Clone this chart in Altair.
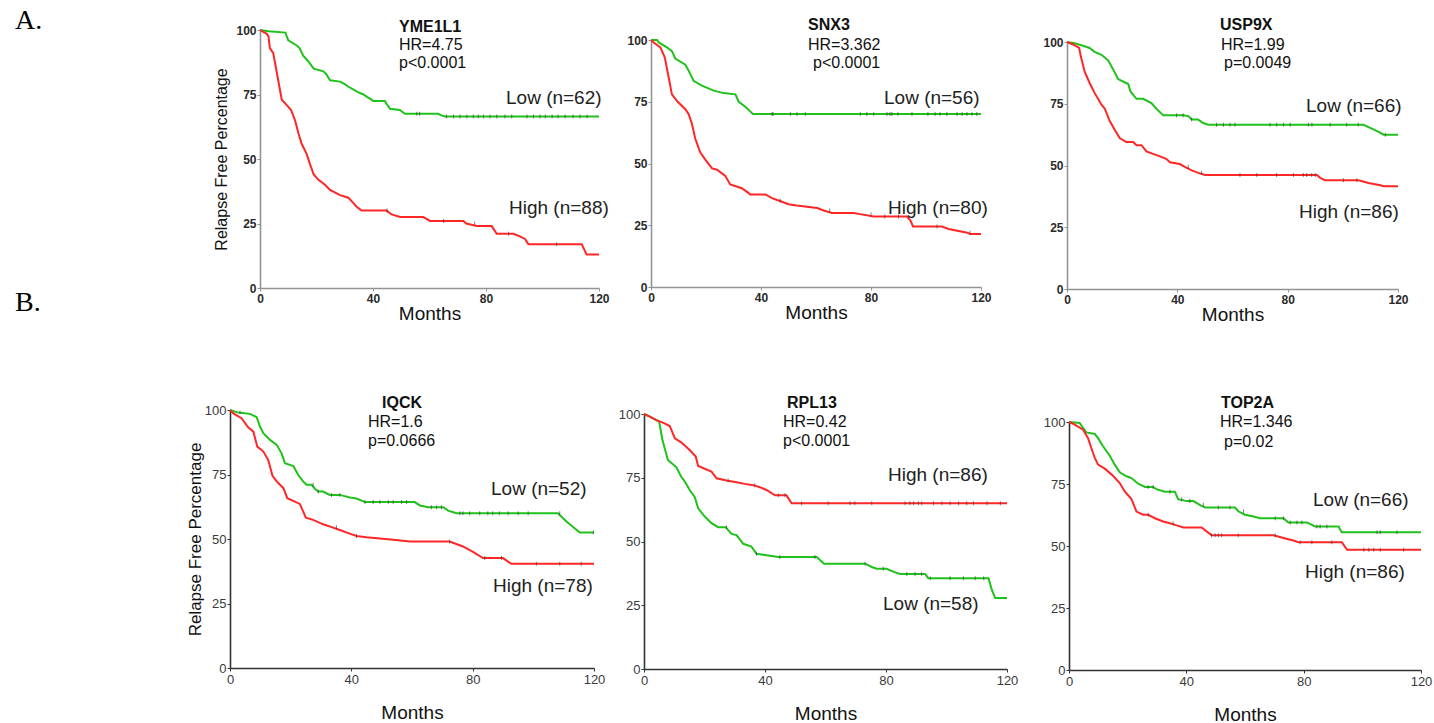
import altair as alt
import pandas as pd

# ---------------------------------------------------------------
# Kaplan-Meier curves: (months, relapse-free percentage) vertices
# ---------------------------------------------------------------
yme1l1_low = [(0, 100), (3, 99.5), (9, 99), (10, 96), (13, 94), (14, 93), (15.3, 90), (17, 88), (19, 85),
              (22.4, 84), (23.4, 83), (24.8, 80.5), (28.3, 80), (30, 79), (31.3, 78), (33, 77), (34.5, 76),
              (36.6, 75), (38, 74), (39.5, 73), (40, 72.5), (44.2, 72.5), (45, 71), (46, 69.5), (49.5, 69),
              (50.7, 68), (51.3, 67.5), (63, 67.5), (64, 67), (65.5, 66.5), (120, 66.5)]
yme1l1_high = [(0, 100), (2.4, 98.5), (3, 97.5), (3.5, 93), (4.7, 91), (7.7, 73), (9.4, 71), (11, 69),
               (12.4, 65), (13.6, 60), (14.7, 56), (16.5, 52), (17.7, 48), (19, 44), (20.6, 42), (23, 40),
               (24.8, 38), (28.3, 36), (31.3, 35), (33, 33), (34.2, 31.5), (36, 30), (44.8, 30), (46.6, 28.5),
               (49.6, 27.5), (57.8, 27.5), (60.2, 26), (72, 26), (73, 25), (76.7, 24), (82, 24), (83.8, 21),
               (89.7, 21), (92, 20), (93.8, 19), (95, 17), (113.9, 17), (115.6, 13), (120, 13)]
snx3_low = [(0, 100), (2.2, 100), (2.8, 99), (5.8, 97), (7.6, 95.5), (8.8, 92.5), (12.5, 90), (13.7, 87.5),
            (15.5, 83.5), (18.5, 81.5), (22.8, 79.5), (26.4, 78.5), (30.7, 78), (31.9, 75), (34.3, 73),
            (37.1, 70), (120, 70)]
snx3_high = [(0, 100), (1, 99), (3.4, 97), (5, 93), (6.4, 85), (7.6, 78), (9.7, 75), (12.5, 72), (13.7, 70),
             (14.9, 66), (16.1, 60), (17.9, 54.5), (19.8, 51.5), (22.2, 48), (24, 47.5), (25.8, 46), (27, 45),
             (28.8, 41.5), (33, 40), (34.9, 38.5), (36.1, 37.5), (41.6, 37.5), (44, 36), (46.4, 35), (50, 33.5),
             (53, 33), (56.7, 32.5), (60.4, 32), (62.8, 31), (65.8, 30), (73.7, 30), (76, 29.5), (81, 28.5),
             (93, 28.5), (94.3, 27), (95.3, 24.5), (105.8, 24.5), (108.2, 23.5), (115, 22), (116.1, 21.5),
             (120, 21.5)]
usp9x_low = [(0, 100), (2.8, 99.5), (5.2, 98.7), (8.2, 97.6), (10, 96), (12.5, 94.8), (14.9, 92.6), (16.7, 89),
             (18.5, 85), (20.9, 83.7), (22.2, 83), (23, 80), (25.2, 77), (27.6, 77), (30.6, 75.3), (32.4, 73),
             (34.9, 70.3), (42.1, 70.3), (44, 70), (45.2, 68.6), (47.5, 68.6), (49.4, 67.2), (51.2, 66.5),
             (107.5, 66.5), (109.9, 65.2), (113, 63.6), (114.8, 62.5), (120, 62.5)]
usp9x_high = [(0, 100), (2.2, 99), (4.4, 97.6), (5, 94.2), (6.4, 88), (8.2, 83.4), (10, 79.4), (12.5, 74.6),
              (13.7, 73), (15.5, 68), (17.3, 64.5), (19.1, 61.1), (21.5, 59.5), (24, 59.5), (25.2, 58.2),
              (27, 58.2), (28.8, 55.7), (31.2, 54.7), (33.7, 53.7), (36.1, 52.6), (37.3, 51.3), (40.9, 50.6),
              (42.7, 49.4), (45.2, 48), (47.6, 47), (50, 46.2), (90.6, 46.2), (91.8, 45), (93.6, 44),
              (105.7, 44), (109.3, 42.9), (113.6, 42), (114.8, 41.6), (120, 41.6)]
iqck_low = [(0, 100), (2.7, 99), (6.6, 98.5), (8.8, 97.2), (9.9, 93.5), (11, 91), (13.2, 88.4), (15.4, 86.5),
            (17, 83.2), (18.1, 79.4), (20.9, 78.3), (22.5, 74.8), (24.1, 72.3), (25.2, 71), (26.9, 71),
            (28, 69.5), (29.1, 68.4), (30.7, 68.4), (32.9, 67.1), (36.2, 67.1), (39.5, 66.1), (41.7, 65.7),
            (44.5, 64.3), (60.9, 64.3), (62.6, 63), (65.3, 62.3), (70.3, 62.3), (71.9, 61), (74.7, 60),
            (108.1, 60), (110.9, 56.8), (113.6, 54.2), (115.3, 52.5), (120, 52.5)]
iqck_high = [(0, 100), (1.1, 98.7), (3.8, 96.8), (6, 93.3), (7.7, 91.6), (9, 85.8), (11, 83.9), (12.6, 80.6),
             (14, 74.5), (15.4, 72.3), (17.6, 69.7), (18.9, 65.8), (21.4, 64.5), (23, 63.6), (23.9, 61.3),
             (25, 58.3), (27.4, 57.4), (30.7, 55.7), (33.5, 54.6), (36.2, 53.5), (39, 52.3), (41.7, 51.2),
             (45, 50.7), (49.4, 50.2), (53.8, 49.7), (59.3, 49), (72.4, 49), (76.8, 47.1), (80.1, 45),
             (83.4, 42.6), (90, 42.6), (92.7, 40.4), (120, 40.4)]
rpl13_low = [(0, 100), (1.9, 99), (3.5, 98), (5, 97), (6.1, 89.8), (7.9, 82), (10.7, 79.1), (12.4, 75.2),
             (13.5, 73.5), (15.1, 70.2), (16.8, 67.4), (17.9, 63), (20.1, 59.8), (22.3, 57.2), (24.5, 55.6),
             (27, 55.6), (28.9, 53), (30.6, 52.5), (32.8, 49.1), (35.5, 48), (37.2, 45.2), (39.4, 44.8),
             (41.6, 44.4), (44.4, 43.9), (57.1, 43.9), (59.5, 41.3), (73.1, 41.3), (75.3, 40), (76.9, 39.3),
             (80.2, 39.3), (83, 37.9), (84.7, 37.3), (92.9, 37.3), (94, 35.6), (113.9, 35.6), (115, 31),
             (116.1, 27.8), (120, 27.8)]
rpl13_high = [(0, 100), (1.9, 99), (4.1, 97.6), (6.8, 96.3), (8.5, 95.3), (10.2, 90.5), (12.4, 88.8),
              (15.1, 85.9), (17.1, 83.3), (17.9, 79.6), (22.3, 77.4), (24, 74.8), (27.3, 73.9), (30.6, 73.2),
              (33.3, 72.6), (36.1, 72.1), (38.3, 71.3), (40.5, 70.2), (43.3, 68.1), (47.1, 68.1), (48.8, 65),
              (120, 65)]
top2a_low = [(0, 100), (3.6, 99.6), (5.9, 95.8), (8.8, 95.2), (9.9, 93.5), (11.6, 90.2), (13.9, 86.4),
             (15.6, 82.8), (17.3, 79.7), (19.6, 78.1), (21.3, 77.4), (23.6, 75.1), (25.9, 73.8), (28.7, 73.8),
             (29.8, 72.9), (32.7, 71.9), (36.1, 71.9), (37.2, 68.9), (40.1, 68.1), (42.4, 68.1), (44.6, 66.6),
             (46.4, 65.5), (56.6, 65.5), (57.7, 64), (60, 62.6), (62.9, 61.9), (65.1, 61.2), (73.1, 61.2),
             (74.8, 59.5), (81.1, 59.5), (83.9, 57.9), (91.9, 57.9), (93, 55.5), (120, 55.5)]
top2a_high = [(0, 100), (1.4, 99.3), (4.8, 96.9), (6.5, 93.5), (7.6, 89.5), (8.8, 85.5), (9.9, 82.8),
              (12.2, 81.2), (15, 78.3), (17.3, 75.4), (19, 72), (21.3, 68.9), (23, 63.9), (25.3, 62.6),
              (27, 62.6), (29.3, 61.2), (32.1, 59.9), (34.4, 59.2), (36.7, 58.3), (39, 57.5), (45.2, 57.5),
              (46.9, 55.9), (48.6, 54.3), (69.7, 54.3), (73.1, 53.2), (76.5, 52.2), (78.2, 51.5), (93, 51.5),
              (94.8, 48.5), (120, 48.5)]

# Censoring times (months)
yme1l1_low_cens = [55.5, 56.5, 66, 68.5, 70.8, 73.2, 75.5, 77.3, 79.1, 81.4, 83.8, 86.7, 89.1, 94.5,
                   96.8, 99.1, 101, 103.4, 105.5, 108, 110.8, 113.3, 115.8]
yme1l1_high_cens = [45, 65, 76, 88, 105]
snx3_low_cens = [44, 44.4, 50.7, 53.1, 56.1, 76.1, 78.5, 81, 85.8, 86.9, 87.6, 89.8, 94.9, 100.7, 103.3,
                 105.1, 107.6, 111.3, 113.1, 114.9, 116.7, 118.5]
snx3_high_cens = [47, 65, 80, 85, 90, 104, 116]
usp9x_low_cens = [39.7, 42.1, 45.2, 54.2, 56.7, 59.1, 60.9, 73.6, 76, 78.5, 80.9, 87.5, 88.8, 95.4, 101.4,
                  105.6, 115.4]
usp9x_high_cens = [44, 48.8, 62.7, 68.8, 76, 82.1, 85.7, 86.9, 88.7, 90, 100.2, 105.1]
iqck_low_cens = [3.3, 27.4, 29.1, 33.5, 36.2, 44.5, 47.2, 49.4, 52.2, 53.8, 56.6, 58.2, 66.4, 68.1, 69.7,
                 75.8, 76.8, 79, 82.3, 85, 86.6, 88.8, 91.7, 95, 98.3, 108.7, 119.8]
iqck_high_cens = [35.1, 41.7, 72.4, 84, 89.5, 101, 108.7, 115.8]
rpl13_low_cens = [27.3, 37.2, 44.9, 56.5, 73.1, 79.1, 86.9, 89.6, 91.8, 94.6, 101.2, 105.6, 109.5, 112.3]
rpl13_high_cens = [27.8, 36.6, 44.4, 46.6, 52.1, 60.9, 68.1, 69.7, 75.3, 86.3, 87.9, 89.1, 90.7, 91.8, 95.7,
                   98.5, 101.2, 104, 106.7, 108.9, 113.4, 117.8]
top2a_low_cens = [27, 28.7, 34.4, 38.4, 41.2, 45.8, 50.9, 54.9, 59.5, 70.3, 73.1, 75.4, 77.7, 79.4, 84.5,
                  85.6, 87.9, 105, 106.1, 111.8]
top2a_high_cens = [27, 35.5, 48.6, 49.8, 50.9, 52, 57.7, 70.3, 78.8, 82.8, 89.6, 100.5, 102.2, 103.9, 106.1,
                   114.1]

genes = ["YME1L1", "SNX3", "USP9X", "IQCK", "RPL13", "TOP2A"]
hr_text = ["HR=4.75", "HR=3.362", "HR=1.99", "HR=1.6", "HR=0.42", "HR=1.346"]
p_text = ["p<0.0001", "p<0.0001", "p=0.0049", "p=0.0666", "p<0.0001", "p=0.02"]
low_n = [62, 56, 66, 52, 58, 66]
high_n = [88, 80, 86, 78, 86, 86]
x_ticks = [0, 40, 80, 120]
y_ticks = [0, 25, 50, 75, 100]
section_labels = ["A.", "B."]

low_curves = [yme1l1_low, snx3_low, usp9x_low, iqck_low, rpl13_low, top2a_low]
high_curves = [yme1l1_high, snx3_high, usp9x_high, iqck_high, rpl13_high, top2a_high]
low_cens = [yme1l1_low_cens, snx3_low_cens, usp9x_low_cens, iqck_low_cens, rpl13_low_cens, top2a_low_cens]
high_cens = [yme1l1_high_cens, snx3_high_cens, usp9x_high_cens, iqck_high_cens, rpl13_high_cens,
             top2a_high_cens]

# ---------------------------------------------------------------
# Page geometry and styling
# ---------------------------------------------------------------
W, H = 1434, 723
SANS = "Liberation Sans"
SERIF = "Liberation Serif"
GREEN = "#1fc21a"
RED = "#ff2626"

# plot boxes: (left, right, top, bottom) in pixels
BOX = [(260, 599, 30, 288), (651, 981, 40, 287), (1067, 1398, 42, 289),
       (230, 594, 410, 668), (644, 1007, 414, 669), (1069, 1421, 422, 670)]
# gene / HR / p text anchors (left x, middle y)
GENE_XY = [(399, 27), (808, 25), (1220, 25), (382, 403), (787, 403), (1221, 403)]
HR_XY = [(399, 45), (808, 45), (1221, 45), (368, 422), (783, 422), (1220, 422)]
P_XY = [(399, 63), (813, 63), (1224, 63), (368, 441), (783, 441), (1224, 442)]
LOW_XY = [(506, 98), (884, 98), (1306, 106), (491, 489), (883, 604), (1313, 500)]
HIGH_XY = [(509, 208), (888, 208), (1299, 212), (493, 586), (888, 475), (1305, 572)]
SECTION_XY = [(15, 21), (15, 303)]


def level_at(curve, t):
    """Value of the survival curve at the last vertex not after t."""
    s = curve[0][1]
    for tt, ss in curve:
        if tt <= t:
            s = ss
        else:
            break
    return s


def text_layer(txt, x, y, size, weight="normal", color="#111111", font=SANS):
    return alt.Chart(pd.DataFrame({"label": [txt]})).mark_text(
        align="left", baseline="middle", font=font, fontSize=size, fontWeight=weight, color=color
    ).encode(x=alt.value(x), y=alt.value(y), text="label:N")


def panel_layers(i):
    """Flat list of layers for one survival panel (each with its own x/y scale)."""
    x0, x1, y0, y1 = BOX[i]
    top_row = i < 3

    rows = []
    for grp, pts in (("Low", low_curves[i]), ("High", high_curves[i])):
        for k, (t, s) in enumerate(pts):
            rows.append({"t": t, "s": s, "group": grp, "k": k})
    curve_df = pd.DataFrame(rows)

    cens_rows = []
    for grp, pts, times in (("Low", low_curves[i], low_cens[i]), ("High", high_curves[i], high_cens[i])):
        for t in times:
            cens_rows.append({"t": t, "s": level_at(pts, t), "group": grp})
    cens_df = pd.DataFrame(cens_rows)

    if top_row:
        lab = dict(labelFontSize=12, labelFontWeight="bold", labelColor="#2a2a2a")
        line_col = "#939393"
        x_title_pad, y_title_pad, y_title_size = 0, 6, 16
    else:
        lab = dict(labelFontSize=13, labelFontWeight="normal", labelColor="#3a3a3a")
        line_col = "#333333"
        x_title_pad, y_title_pad, y_title_size = 17, 0, 17

    common = dict(labelFont=SANS, domainColor=line_col, tickColor=line_col, domainWidth=1.6,
                  tickSize=3, grid=False, labelFlush=False, labelOverlap=False,
                  titleFont=SANS, titleFontWeight="normal", titleColor="#111111", **lab)

    x_axis = alt.Axis(orient="bottom", offset=y1 - H, values=x_ticks, title="Months",
                      titleFontSize=19, titlePadding=x_title_pad, labelPadding=2, **common)
    y_kw = dict(orient="left", offset=-x0, values=y_ticks, labelPadding=1, **common)
    if i in (0, 3):
        y_axis = alt.Axis(title="Relapse Free Percentage", titleFontSize=y_title_size,
                          titlePadding=y_title_pad, **y_kw)
    else:
        y_axis = alt.Axis(title=None, **y_kw)

    def xs():
        return alt.Scale(domain=[0, 120], range=[x0, x1], nice=False, zero=False)

    def ys():
        return alt.Scale(domain=[0, 100], range=[y1, y0], nice=False, zero=False)

    lines = alt.Chart(curve_df).mark_line(strokeWidth=2).encode(
        x=alt.X("t:Q", scale=xs(), axis=x_axis),
        y=alt.Y("s:Q", scale=ys(), axis=y_axis),
        color=alt.Color("group:N", scale=alt.Scale(domain=["Low", "High"], range=[GREEN, RED]),
                        legend=None),
        order=alt.Order("k:Q"),
    )
    ticks = alt.Chart(cens_df).mark_tick(orient="vertical", size=4, thickness=1, color="#333333",
                                         opacity=0.6).encode(
        x=alt.X("t:Q", scale=xs(), axis=None),
        y=alt.Y("s:Q", scale=ys(), axis=None),
    )

    fs = 16
    texts = [
        text_layer(genes[i], *GENE_XY[i], fs, weight="bold"),
        text_layer(hr_text[i], *HR_XY[i], fs),
        text_layer(p_text[i], *P_XY[i], fs),
        text_layer(f"Low (n={low_n[i]})", *LOW_XY[i], 19, color="#222222"),
        text_layer(f"High (n={high_n[i]})", *HIGH_XY[i], 19, color="#222222"),
    ]
    return [lines, ticks] + texts


layers = []
for i in range(6):
    layers.extend(panel_layers(i))
layers.extend(text_layer(lbl, x, y, 28, font=SERIF, color="#000000")
              for lbl, (x, y) in zip(section_labels, SECTION_XY))

chart = alt.layer(*layers).resolve_scale(
    x="independent", y="independent"
).resolve_axis(
    x="independent", y="independent"
).properties(
    width=W, height=H, padding=0, autosize=alt.AutoSizeParams(type="none"), background="white"
).configure_view(stroke=None)

chart.save("out.html", embed_options={"renderer": "svg", "actions": False})
